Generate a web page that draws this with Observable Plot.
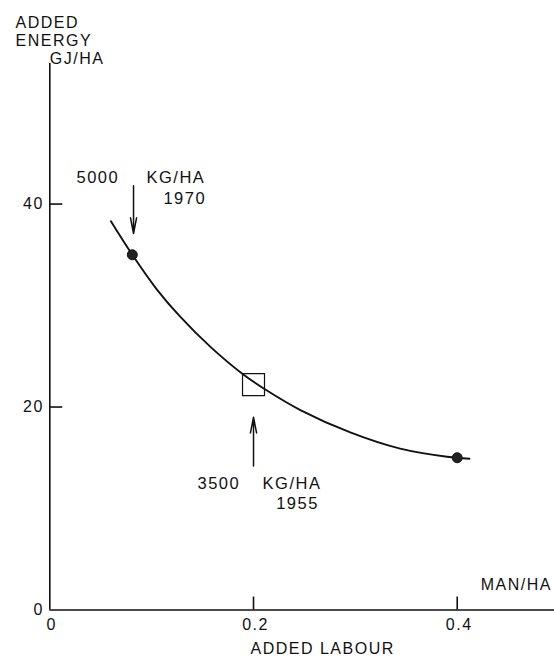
<!DOCTYPE html>
<html><head><meta charset="utf-8">
<script src="https://cdn.jsdelivr.net/npm/d3@7"></script>
<script src="https://cdn.jsdelivr.net/npm/@observablehq/plot@0.6"></script>
<style>body{margin:0;background:#fff}</style>
</head><body><div id="chart"></div>
<script>
// Curve: added energy (GJ/ha) vs added labour (man/ha)
const curveX = [0.060, 0.081, 0.105, 0.128, 0.158, 0.190, 0.212, 0.246, 0.295, 0.344, 0.390, 0.412];
const curveY = [38.3, 35.0, 31.6, 28.9, 25.9, 23.2, 21.7, 19.7, 17.5, 15.9, 15.1, 14.9];
// Marked points
const pointX = [0.081, 0.400];
const pointY = [35.0, 15.0];
const squareX = [0.200];
const squareY = [22.2];
// Ticks
const xTicks = [0.2, 0.4];
const yTicks = [20, 40];
const xTickValues = [0, 0.2, 0.4];
const xTickLabels = ["0", "0.2", "0.4"];
const yTickValues = [0, 20, 40];
const yTickLabels = ["0", "20", "40"];
// Annotations (left-aligned)
const annoStartText = ["5000", "KG/HA", "3500", "KG/HA"];
const annoStartX = [0.0262, 0.0949, 0.1450, 0.2089];
const annoStartY = [42.1, 42.1, 11.97, 11.97];
// Annotations (right-aligned)
const annoEndText = ["1970", "1955"];
const annoEndX = [0.1535, 0.2642];
const annoEndY = [40.05, 10.0];
// Arrows
const arrowX = [0.0822, 0.200];
const arrowFrom = [41.8, 14.2];
const arrowTo = [37.1, 19.0];

const curve = curveX.map((x, i) => ({x, y: curveY[i]}));
const points = pointX.map((x, i) => ({x, y: pointY[i]}));
const squares = squareX.map((x, i) => ({x, y: squareY[i]}));
const annosStart = annoStartText.map((t, i) => ({t, x: annoStartX[i], y: annoStartY[i]}));
const annosEnd = annoEndText.map((t, i) => ({t, x: annoEndX[i], y: annoEndY[i]}));
const arrows = arrowX.map((x, i) => ({x, y1: arrowFrom[i], y2: arrowTo[i]}));

const W = 554, H = 657, ML = 49.3, MT = 63, MB = 47.5, MR = 0;
const xMax = 0.4955, yMax = 53.85;
const xPerPx = xMax / (W - ML - MR);
const yPerPx = yMax / (H - MT - MB);
const tick = 13;
const font = "'Liberation Sans', Arial, Helvetica, sans-serif";
const ink = "#111";
const ls = "1.5px";

const txt = (s, opts) => Plot.text([s], {text: d => d, fill: ink, fontSize: 16, lineAnchor: "bottom", ...opts});

const chart = Plot.plot({
  width: W, height: H,
  marginLeft: ML, marginRight: MR, marginTop: MT, marginBottom: MB,
  x: {domain: [0, xMax], axis: null},
  y: {domain: [0, yMax], axis: null},
  style: {fontFamily: font, fontSize: "16px", background: "white", color: ink, letterSpacing: ls, overflow: "visible"},
  marks: [
    Plot.ruleX([0], {stroke: ink, strokeWidth: 1.6}),
    Plot.ruleY([0], {stroke: ink, strokeWidth: 1.6}),
    Plot.ruleY(yTicks, {y: d => d, x1: 0, x2: tick * xPerPx, stroke: ink, strokeWidth: 1.6}),
    Plot.ruleX(xTicks, {x: d => d, y1: 0, y2: tick * yPerPx, stroke: ink, strokeWidth: 1.6}),
    Plot.text(yTickValues, {x: 0, y: d => d, text: (d, i) => yTickLabels[i], textAnchor: "end", dx: -6, fill: ink, fontSize: 16}),
    Plot.text(xTickValues, {x: d => d, y: 0, text: (d, i) => xTickLabels[i], dy: 14.5, dx: 2, fill: ink, fontSize: 16}),
    Plot.line(curve, {x: "x", y: "y", curve: "catmull-rom", stroke: ink, strokeWidth: 1.9}),
    Plot.dot(points, {x: "x", y: "y", r: 5, fill: "#222", stroke: ink, strokeWidth: 1}),
    Plot.dot(squares, {x: "x", y: "y", symbol: "square", r: 12.4, fill: "none", stroke: ink, strokeWidth: 1.2}),
    Plot.arrow(arrows, {x: "x", y1: "y1", y2: "y2", stroke: ink, strokeWidth: 1.5, headLength: 16, headAngle: 22}),
    Plot.text(annosStart, {x: "x", y: "y", text: "t", textAnchor: "start", lineAnchor: "bottom", fill: ink, fontSize: 16.5, letterSpacing: "2px"}),
    Plot.text(annosEnd, {x: "x", y: "y", text: "t", textAnchor: "end", lineAnchor: "bottom", fill: ink, fontSize: 16.5, letterSpacing: "2px"}),
    txt("ADDED", {frameAnchor: "top-left", textAnchor: "start", dx: 15 - ML, dy: 27 - MT}),
    txt("ENERGY", {frameAnchor: "top-left", textAnchor: "start", dx: 15 - ML, dy: 45 - MT}),
    txt("GJ/HA", {frameAnchor: "top-left", textAnchor: "start", dx: 0, dy: 0}),
    txt("MAN/HA", {frameAnchor: "bottom-right", textAnchor: "end", dx: -2.5, dy: -20.5, letterSpacing: "2.5px"}),
    txt("ADDED LABOUR", {frameAnchor: "bottom-left", textAnchor: "start", dx: 250 - ML, dy: 43.5})
  ]
});
document.getElementById("chart").appendChild(chart);
</script>
</body></html>
